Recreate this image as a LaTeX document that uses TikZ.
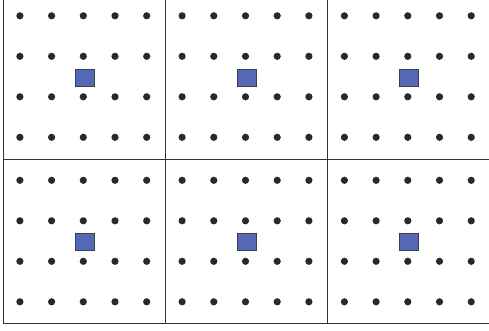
\documentclass[tikz,border=0pt]{standalone}
\usetikzlibrary{calc}
\definecolor{dotgray}{RGB}{40,40,45}
\definecolor{siteblue}{RGB}{84,104,184}
\tikzset{
  gridline/.style={draw=black!80,line width=1pt},
  latticedot/.style={fill=dotgray},
  sitebox/.style={fill=siteblue,draw=black!75,line width=0.7pt}
}

\begin{document}
\begin{tikzpicture}[x=1pt,y=-1pt]
    \useasboundingbox (0,0) rectangle (489,331);
    % cells: 3 columns x 2 rows, each with 5x4 dots and one site
    \foreach \cx in {3,165.2,327.5} {
      \foreach \cy in {-5.5,159} {
        \foreach \i in {0,...,4} {
          \foreach \j in {0,...,3} {
            \fill[latticedot] (\cx+16.9+31.7*\i,\cy+21.3+40.5*\j) circle (3.6);
          }
        }
        \filldraw[sitebox] (\cx+72,\cy+74.5) rectangle ++(19,17);
      }
    }
    % cell borders
    \coordinate (tl) at (3,0);
    \coordinate (bl) at (3,323.5);
    \coordinate (br) at (489,323.5);
    \draw[gridline] (tl) -- (bl) -- (br);
    \draw[gridline] (165,0) -- (165,323.5);
    \draw[gridline] (327.5,0) -- (327.5,323.5);
    \draw[gridline] (3,159) -- (489,159);
  \end{tikzpicture}
\end{document}
